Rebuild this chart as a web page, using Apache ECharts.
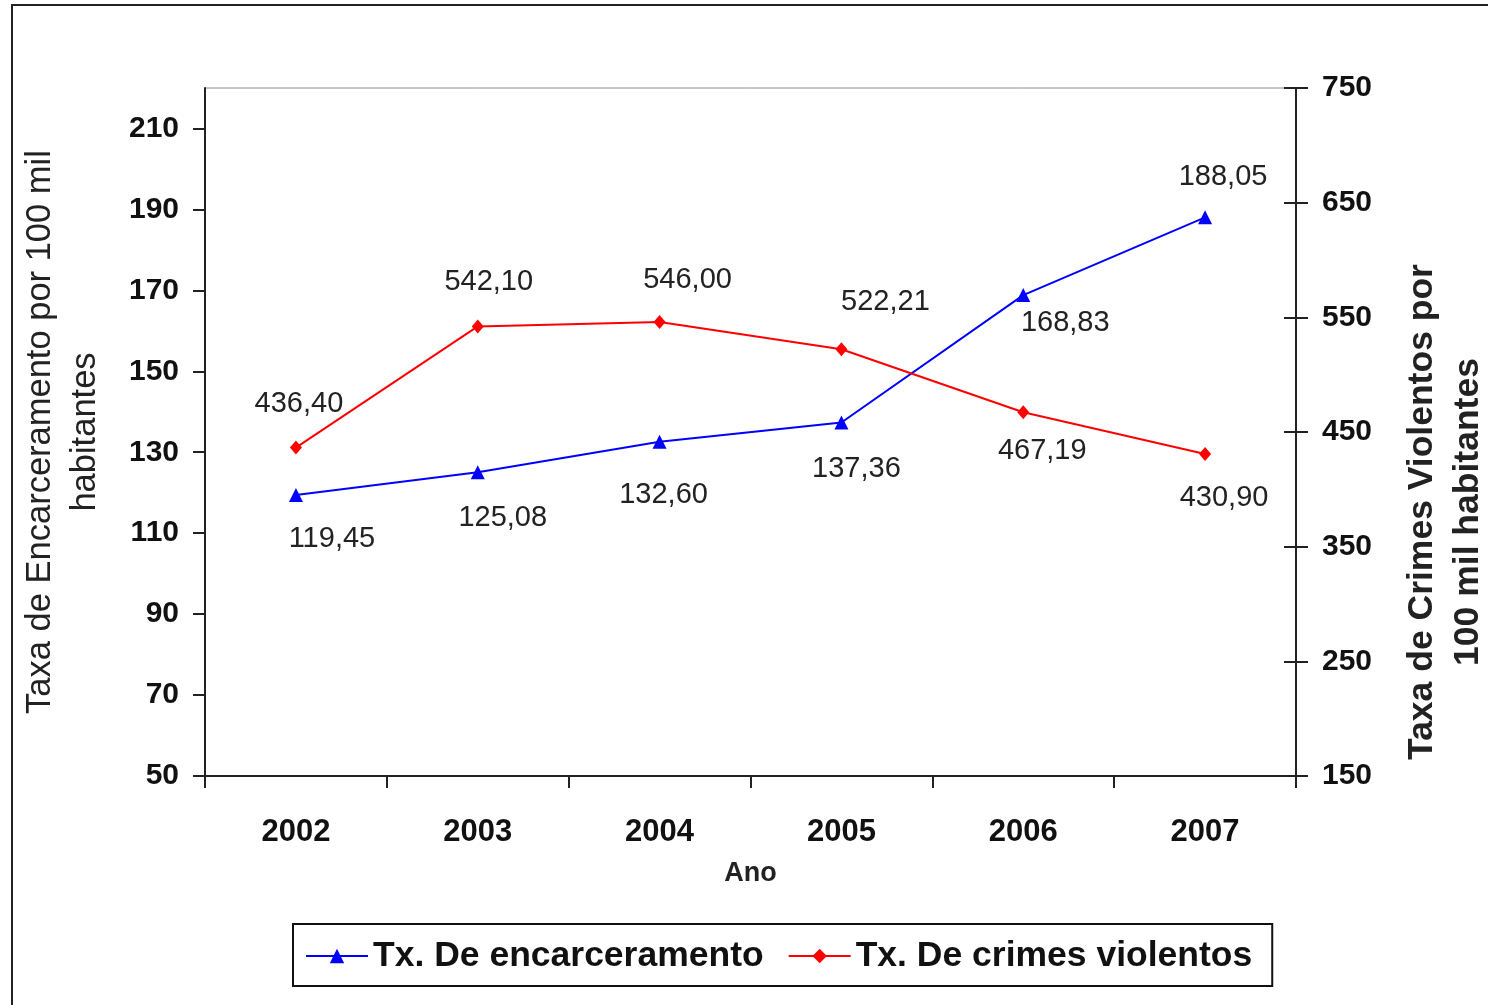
<!DOCTYPE html>
<html>
<head>
<meta charset="utf-8">
<script src="https://cdn.jsdelivr.net/npm/echarts@6/dist/echarts.min.js"></script>
<style>
  html, body { margin: 0; padding: 0; background: #fff; }
  #chart { width: 1488px; height: 1005px; }
</style>
</head>
<body>
<div id="chart"></div>
<script>
// anos e taxas
const anos = ['2002', '2003', '2004', '2005', '2006', '2007']
const encarceramento = [119.45, 125.08, 132.60, 137.36, 168.83, 188.05]
const crimesViolentos = [436.40, 542.10, 546.00, 522.21, 467.19, 430.90]

const leftTicks = [50, 70, 90, 110, 130, 150, 170, 190, 210]
const rightTicks = [150, 250, 350, 450, 550, 650, 750]

// deslocamento dos rótulos em relação ao ponto
const offsetsEnc = [[36, 44], [25, 46], [4, 53], [15, 47], [42, 28], [18, -40]]
const offsetsCrimes = [[3, -44], [11, -44], [28, -42], [44, -47], [19, 39], [19, 44]]

const FONT = '"Liberation Sans", Arial, sans-serif'
const AXIS = '#222'

const fmt = (v) => v.toFixed(2).replace('.', ',')

function withLabels(values, offsets) {
  return values.map((v, i) => ({
    value: v,
    label: { offset: offsets[i] },
  }))
}

const labelStyle = {
  show: true,
  position: 'inside',
  align: 'center',
  verticalAlign: 'middle',
  fontFamily: FONT,
  fontSize: 29,
  color: '#222',
  formatter: (p) => fmt(p.value),
}

const chart = echarts.init(document.getElementById('chart'), null, { renderer: 'canvas' })

chart.setOption({
  animation: false,
  backgroundColor: '#fff',
  textStyle: { fontFamily: FONT },
  grid: {
    left: 205,
    right: 192,
    top: 88,
    bottom: 229,
    show: true,
    borderColor: '#888',
    borderWidth: 1,
  },
  legend: {
    left: 293,
    top: 924,
    padding: [14, 20, 12, 12],
    itemGap: 24,
    itemWidth: 62,
    itemHeight: 18,
    borderColor: '#111',
    borderWidth: 2,
    textStyle: { fontFamily: FONT, fontSize: 35.5, fontWeight: 'bold', color: '#111' },
    data: ['Tx. De encarceramento', 'Tx. De crimes violentos'],
  },
  xAxis: {
    type: 'category',
    data: anos,
    boundaryGap: true,
    name: 'Ano',
    nameLocation: 'middle',
    nameGap: 84,
    nameTextStyle: { fontFamily: FONT, fontSize: 27, fontWeight: 'bold', color: '#222' },
    axisLine: { lineStyle: { color: AXIS, width: 2 } },
    axisTick: { show: true, length: 12, inside: false, lineStyle: { color: AXIS, width: 2 } },
    axisLabel: { margin: 41, fontFamily: FONT, fontSize: 31, fontWeight: 'bold', color: '#111' },
    splitLine: { show: false },
  },
  yAxis: [
    {
      type: 'value',
      position: 'left',
      min: 50,
      max: 220,
      interval: 20,
      axisLine: { show: true, lineStyle: { color: AXIS, width: 2 } },
      axisTick: { show: true, length: 12, lineStyle: { color: AXIS, width: 2 }, customValues: leftTicks },
      axisLabel: {
        margin: 26, fontFamily: FONT, fontSize: 30, fontWeight: 'bold', color: '#111',
        customValues: leftTicks,
      },
      splitLine: { show: false },
    },
    {
      type: 'value',
      position: 'right',
      min: 150,
      max: 750,
      interval: 100,
      axisLine: { show: true, lineStyle: { color: AXIS, width: 2 } },
      axisTick: { show: true, length: 12, lineStyle: { color: AXIS, width: 2 }, customValues: rightTicks },
      axisLabel: {
        margin: 26, fontFamily: FONT, fontSize: 30, fontWeight: 'bold', color: '#111',
        customValues: rightTicks,
      },
      splitLine: { show: false },
    },
    {
      // metade interna dos traços cruzados do eixo direito
      type: 'value',
      position: 'right',
      min: 150,
      max: 750,
      interval: 100,
      axisLine: { show: false },
      axisTick: { show: true, inside: true, length: 12, lineStyle: { color: AXIS, width: 2 }, customValues: rightTicks },
      axisLabel: { show: false },
      splitLine: { show: false },
    },
  ],
  graphic: [
    {
      type: 'rect',
      silent: true,
      shape: { x: 12, y: 5, width: 1500, height: 1030 },
      style: { fill: 'none', stroke: '#222', lineWidth: 2 },
    },
    {
      type: 'text',
      x: 63,
      y: 432,
      rotation: Math.PI / 2,
      style: {
        text: 'Taxa de Encarceramento por 100 mil\nhabitantes',
        font: '34.5px ' + FONT,
        fill: '#222',
        align: 'center',
        verticalAlign: 'middle',
        lineHeight: 45,
      },
    },
    {
      type: 'text',
      x: 1445,
      y: 512,
      rotation: Math.PI / 2,
      style: {
        text: 'Taxa de Crimes Violentos por\n100 mil habitantes',
        font: 'bold 35.5px ' + FONT,
        fill: '#222',
        align: 'center',
        verticalAlign: 'middle',
        lineHeight: 46,
      },
    },
  ],
  series: [
    {
      name: 'Tx. De encarceramento',
      type: 'line',
      yAxisIndex: 0,
      data: withLabels(encarceramento, offsetsEnc),
      symbol: 'triangle',
      symbolSize: 14,
      lineStyle: { color: '#0000ff', width: 2 },
      itemStyle: { color: '#0000ff' },
      label: labelStyle,
    },
    {
      name: 'Tx. De crimes violentos',
      type: 'line',
      yAxisIndex: 1,
      data: withLabels(crimesViolentos, offsetsCrimes),
      symbol: 'diamond',
      symbolSize: [12, 14],
      lineStyle: { color: '#ff0000', width: 2 },
      itemStyle: { color: '#ff0000' },
      label: labelStyle,
    },
  ],
})
</script>
</body>
</html>
